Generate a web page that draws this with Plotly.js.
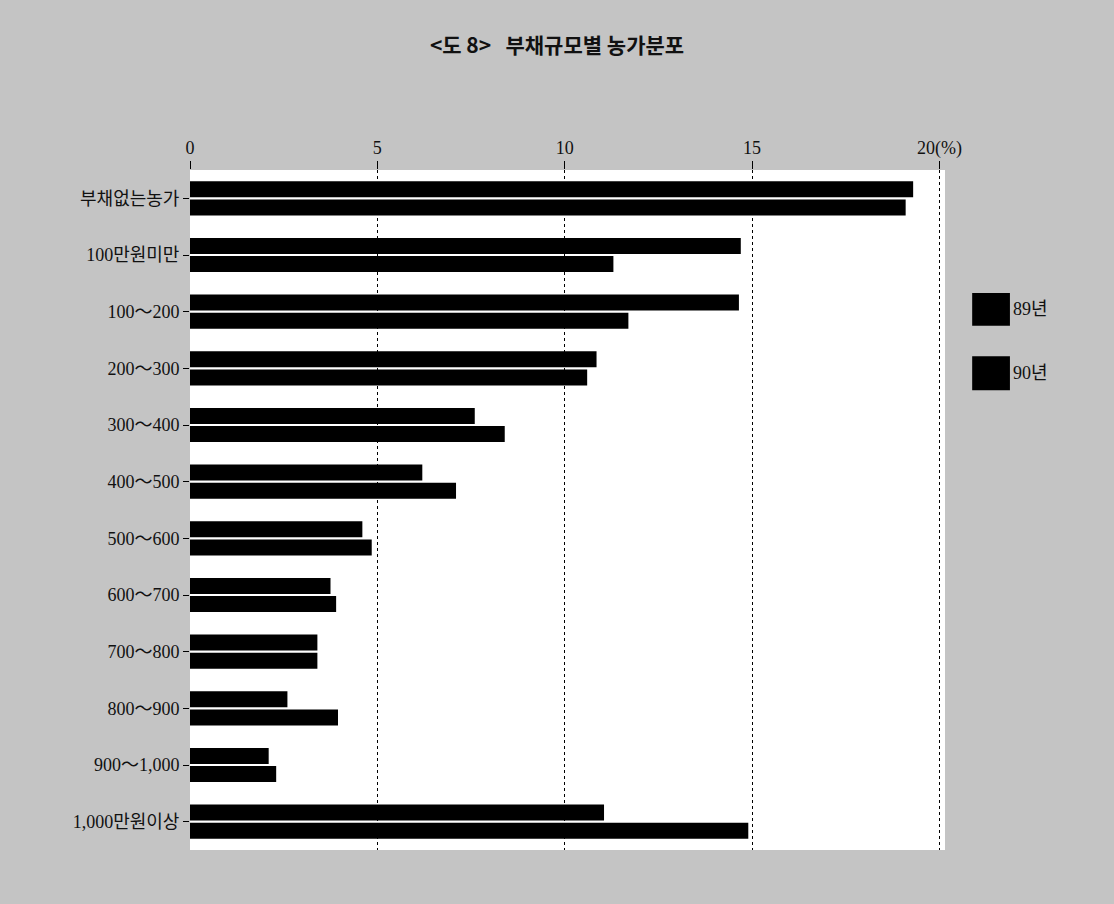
<!DOCTYPE html>
<html>
<head>
<meta charset="utf-8">
<script src="https://cdn.plot.ly/plotly-3.0.1.min.js"></script>
<style>html,body{margin:0;padding:0;background:#c4c4c4;}</style>
</head>
<body>
<div id="chart" style="width:1114px;height:904px;"></div>
<script>
const categories = ["부채없는농가","100만원미만","100～200","200～300","300～400","400～500","500～600","600～700","700～800","800～900","900～1,000","1,000만원이상"];
const series89 = [19.3, 14.7, 14.65, 10.85, 7.6, 6.2, 4.6, 3.75, 3.4, 2.6, 2.1, 11.05];
const series90 = [19.1, 11.3, 11.7, 10.6, 8.4, 7.1, 4.85, 3.9, 3.4, 3.95, 2.3, 14.9];
const seriesNames = ["89년", "90년"];
const xTickVals = [0, 5, 10, 15, 20];
const xTickText = ["0", "5", "10", "15", "20(%)"];

const serif = "Liberation Serif, DejaVu Serif, Noto Sans CJK KR, serif";

const traces = [
  {type: "bar", orientation: "h", name: seriesNames[0], y: categories, x: series89,
   marker: {color: "#000000", line: {width: 0}}, showlegend: false},
  {type: "bar", orientation: "h", name: seriesNames[1], y: categories, x: series90,
   marker: {color: "#000000", line: {width: 0}}, showlegend: false}
];

const layout = {
  width: 1114, height: 904,
  paper_bgcolor: "#c4c4c4",
  plot_bgcolor: "#ffffff",
  margin: {l: 190, r: 169, t: 170, b: 54},
  barmode: "group",
  bargap: 0.36,
  bargroupgap: 0.12,
  title: {text: "<b>&lt;도 8&gt;   부채규모별 농가분포</b>", x: 0.5, xanchor: "center", y: 0.95, yanchor: "middle",
          font: {family: "Noto Sans CJK KR, sans-serif", size: 21, color: "#111"}},
  xaxis: {side: "top", range: [0, 20.15], tickvals: xTickVals, ticktext: xTickText,
          showgrid: true, gridcolor: "#000000", gridwidth: 1, griddash: "3px,3px",
          zeroline: false, showline: false, ticks: "outside", ticklen: 8, tickcolor: "#000",
          tickfont: {family: serif, size: 18, color: "#111"}, fixedrange: true},
  yaxis: {autorange: "reversed", ticks: "outside", ticklen: 6, tickcolor: "#000",
          showgrid: false, zeroline: false, showline: false,
          tickfont: {family: serif, size: 18, color: "#111"}, fixedrange: true},
  shapes: [
    {type: "rect", xref: "paper", yref: "paper", x0: 1.036, x1: 1.086, y0: 0.771, y1: 0.819,
     fillcolor: "#000", line: {width: 0}},
    {type: "rect", xref: "paper", yref: "paper", x0: 1.036, x1: 1.086, y0: 0.676, y1: 0.726,
     fillcolor: "#000", line: {width: 0}}
  ],
  annotations: [
    {xref: "paper", yref: "paper", x: 1.087, y: 0.795, xanchor: "left", yanchor: "middle",
     text: seriesNames[0], showarrow: false, font: {family: serif, size: 18, color: "#111"}},
    {xref: "paper", yref: "paper", x: 1.087, y: 0.701, xanchor: "left", yanchor: "middle",
     text: seriesNames[1], showarrow: false, font: {family: serif, size: 18, color: "#111"}}
  ]
};

Plotly.newPlot("chart", traces, layout, {displayModeBar: false, staticPlot: true});
</script>
</body>
</html>
